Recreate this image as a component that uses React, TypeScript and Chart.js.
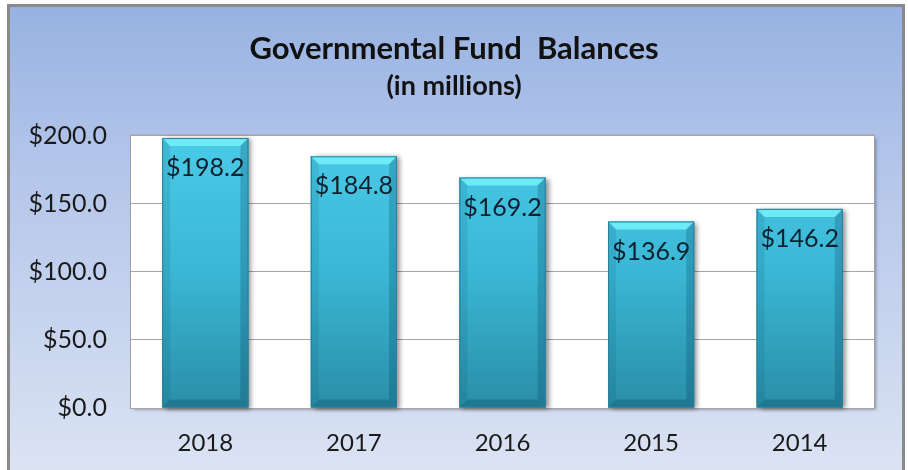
import React, { useEffect, useRef } from "react";
import { Chart, registerables } from "chart.js";

Chart.register(...registerables);

const categories = ["2018", "2017", "2016", "2015", "2014"];
const fundBalances = [198.2, 184.8, 169.2, 136.9, 146.2];
const yMin = 0;
const yMax = 200;
const yStep = 50;
const titleText = "Governmental Fund  Balances";
const subtitleText = "(in millions)";

const FONT = "Lato, 'Open Sans', sans-serif";

const fmt = (v: number) => "$" + v.toFixed(1);

const framePlugin = {
  id: "frame",
  beforeDraw(chart: any) {
    const { ctx, width, height, chartArea } = chart;
    ctx.save();
    ctx.fillStyle = "#ffffff";
    ctx.fillRect(0, 0, width, height);
    ctx.fillStyle = "#8a8a8a";
    ctx.fillRect(7, 4, 898, height);
    const g = ctx.createLinearGradient(0, 7, 0, height);
    g.addColorStop(0, "#97b2e1");
    g.addColorStop(0.3, "#b0c3e9");
    g.addColorStop(1, "#dbe3f3");
    ctx.fillStyle = g;
    ctx.fillRect(10, 7, 892, height);
    const { left, top, right, bottom } = chartArea;
    ctx.save();
    ctx.shadowColor = "rgba(0,0,0,0.35)";
    ctx.shadowBlur = 3;
    ctx.shadowOffsetX = 2;
    ctx.shadowOffsetY = 2;
    ctx.fillStyle = "#ffffff";
    ctx.fillRect(left, top, right - left, bottom - top);
    ctx.restore();
    ctx.strokeStyle = "#a0a0a0";
    ctx.lineWidth = 1;
    ctx.strokeRect(left - 0.5, top - 0.5, right - left + 1, bottom - top + 1);
    ctx.restore();
  },
};

const barFxPlugin = {
  id: "barfx",
  beforeDatasetsDraw(chart: any) {
    const { ctx } = chart;
    const meta = chart.getDatasetMeta(0);
    ctx.save();
    meta.data.forEach((bar: any) => {
      const { x, y, base, width } = bar.getProps(["x", "y", "base", "width"], true);
      ctx.save();
      ctx.shadowColor = "rgba(0,0,0,0.45)";
      ctx.shadowBlur = 5;
      ctx.shadowOffsetX = 3;
      ctx.shadowOffsetY = 1;
      ctx.fillStyle = "#2a8fa8";
      ctx.fillRect(x - width / 2, y, width, base - y);
      ctx.restore();
    });
    ctx.restore();
  },
  afterDatasetsDraw(chart: any) {
    const { ctx } = chart;
    const meta = chart.getDatasetMeta(0);
    const ds = chart.data.datasets[0].data;
    ctx.save();
    meta.data.forEach((bar: any, i: number) => {
      const { x, y, base, width } = bar.getProps(["x", "y", "base", "width"], true);
      const l = x - width / 2;
      const r = x + width / 2;
      const b = 8;
      ctx.beginPath();
      ctx.moveTo(l, y);
      ctx.lineTo(r, y);
      ctx.lineTo(r - b, y + b);
      ctx.lineTo(l + b, y + b);
      ctx.closePath();
      ctx.fillStyle = "rgba(115,238,250,0.9)";
      ctx.fill();
      ctx.beginPath();
      ctx.moveTo(l, y);
      ctx.lineTo(l + b, y + b);
      ctx.lineTo(l + b, base - b);
      ctx.lineTo(l, base);
      ctx.closePath();
      ctx.fillStyle = "rgba(0,70,100,0.12)";
      ctx.fill();
      ctx.beginPath();
      ctx.moveTo(r, y);
      ctx.lineTo(r - b, y + b);
      ctx.lineTo(r - b, base - b);
      ctx.lineTo(r, base);
      ctx.closePath();
      ctx.fillStyle = "rgba(0,50,80,0.22)";
      ctx.fill();
      ctx.beginPath();
      ctx.moveTo(l, base);
      ctx.lineTo(l + b, base - b);
      ctx.lineTo(r - b, base - b);
      ctx.lineTo(r, base);
      ctx.closePath();
      ctx.fillStyle = "rgba(0,50,80,0.25)";
      ctx.fill();
      ctx.strokeStyle = "#2b8098";
      ctx.lineWidth = 1;
      ctx.strokeRect(l + 0.5, y + 0.5, width - 1, base - y - 1);
      ctx.fillStyle = "#10202e";
      ctx.font = `25px ${FONT}`;
      ctx.textAlign = "center";
      ctx.textBaseline = "middle";
      ctx.fillText(fmt(ds[i]), x, y + 30);
    });
    ctx.restore();
  },
};

export default function App() {
  const ref = useRef<HTMLCanvasElement | null>(null);
  useEffect(() => {
    if (!ref.current) return;
    const chart = new Chart(ref.current, {
      type: "bar",
      data: {
        labels: categories,
        datasets: [
          {
            data: fundBalances,
            backgroundColor: (c: any) => {
              const area = c.chart.chartArea;
              if (!area) return "#3cbad8";
              const g = c.chart.ctx.createLinearGradient(0, area.top, 0, area.bottom);
              g.addColorStop(0, "#4acbe8");
              g.addColorStop(0.5, "#3ab7d5");
              g.addColorStop(1, "#2a8ea7");
              return g;
            },
            borderWidth: 0,
            categoryPercentage: 1,
            barPercentage: 0.58,
          },
        ],
      },
      options: {
        responsive: false,
        animation: false,
        layout: { padding: { left: 0, right: 0, top: 0, bottom: 0 } },
        plugins: {
          legend: { display: false },
          tooltip: { enabled: false },
          title: {
            display: true,
            text: titleText,
            color: "#111111",
            font: { family: FONT, size: 31, weight: "bold" },
            padding: { top: 30, bottom: 3 },
          },
          subtitle: {
            display: true,
            text: subtitleText,
            color: "#111111",
            font: { family: FONT, size: 27, weight: "bold" },
            padding: { top: 0, bottom: 33 },
          },
        },
        scales: {
          x: {
            grid: { display: false, drawTicks: false },
            border: { display: false },
            ticks: {
              color: "#1a1a1a",
              font: { family: FONT, size: 24 },
              padding: 21,
            },
            afterFit: (s: any) => {
              s.height = 62;
            },
          },
          y: {
            min: yMin,
            max: yMax,
            grid: { color: "#a6a6a6", drawTicks: false },
            border: { display: false },
            ticks: {
              stepSize: yStep,
              color: "#1a1a1a",
              font: { family: FONT, size: 25 },
              padding: 24,
              callback: (v: any) => fmt(Number(v)),
            },
            afterFit: (s: any) => {
              s.width = 131;
            },
          },
          yRight: {
            position: "right",
            min: yMin,
            max: yMax,
            grid: { display: false, drawTicks: false },
            border: { display: false },
            ticks: { display: false },
            afterFit: (s: any) => {
              s.width = 34;
            },
          },
        },
      },
      plugins: [framePlugin, barFxPlugin],
    });
    return () => chart.destroy();
  }, []);
  return (
    <div style={{ position: "fixed", left: 0, top: 0, width: 908, height: 470 }}>
      <canvas ref={ref} width={908} height={470} />
    </div>
  );
}
